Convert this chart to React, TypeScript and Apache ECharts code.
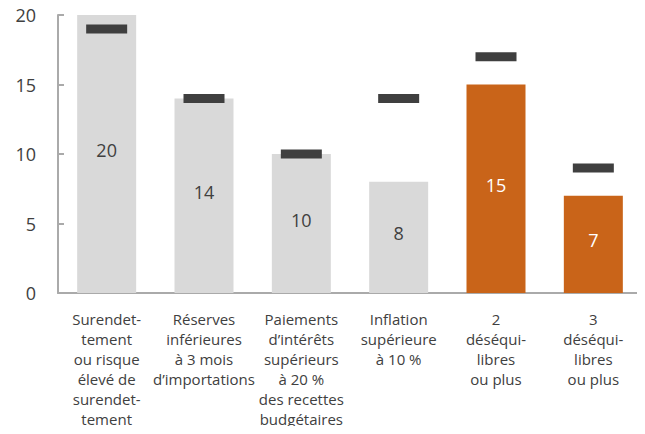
import React, { useEffect, useRef } from "react";
import * as echarts from "echarts";

const categories = [
  "Surendet-\ntement\nou risque\nélevé de\nsurendet-\ntement",
  "Réserves\ninférieures\nà 3 mois\nd’importations",
  "Paiements\nd’intérêts\nsupérieurs\nà 20 %\ndes recettes\nbudgétaires",
  "Inflation\nsupérieure\nà 10 %",
  "2\ndéséqui-\nlibres\nou plus",
  "3\ndéséqui-\nlibres\nou plus",
];
const barValues = [20, 14, 10, 8, 15, 7];
const markerValues = [19, 14, 10, 14, 17, 9];
const highlighted = [false, false, false, false, true, true];
const yTicks = [0, 5, 10, 15, 20];

const GRAY = "#d9d9d9";
const ORANGE = "#c96419";
const TEXT = "#404040";
const FONT = "'Open Sans', 'Noto Sans', sans-serif";

export default function App() {
  const ref = useRef<HTMLDivElement>(null);
  useEffect(() => {
    if (!ref.current) return;
    const chart = echarts.init(ref.current, null, { renderer: "svg" });
    chart.setOption({
      animation: false,
      grid: { left: 58, right: 3, top: 15, bottom: 141, containLabel: false },
      xAxis: {
        type: "category",
        data: categories,
        axisLine: { show: true, lineStyle: { color: "#aaaaaa", width: 2 } },
        axisTick: { show: false },
        axisLabel: {
          interval: 0,
          color: TEXT,
          fontSize: 15,
          lineHeight: 20,
          fontFamily: FONT,
          margin: 16,
          align: "center",
          verticalAlign: "top",
        },
      },
      yAxis: {
        type: "value",
        min: yTicks[0],
        max: yTicks[yTicks.length - 1],
        interval: 5,
        splitLine: { show: false },
        axisLine: { show: true, lineStyle: { color: "#aaaaaa", width: 2 } },
        axisTick: { show: true, inside: true, length: 6, lineStyle: { color: "#aaaaaa", width: 2 } },
        axisLabel: { color: TEXT, fontSize: 18, fontFamily: FONT, margin: 22 },
      },
      series: [
        {
          type: "bar",
          barWidth: 59,
          data: barValues.map((v, i) => ({
            value: v,
            itemStyle: { color: highlighted[i] ? ORANGE : GRAY },
            label: { color: highlighted[i] ? "#ffffff" : TEXT },
          })),
          label: {
            show: true,
            position: "inside",
            fontSize: 18,
            fontFamily: FONT,
            offset: [0, -4],
          },
          z: 2,
        },
        {
          type: "scatter",
          symbol: "rect",
          symbolSize: [41, 9],
          data: markerValues,
          itemStyle: { color: "#3f3f3f", opacity: 1 },
          z: 3,
        },
      ],
    });
    return () => chart.dispose();
  }, []);
  return <div ref={ref} style={{ width: 645, height: 434, margin: -8 }} />;
}
